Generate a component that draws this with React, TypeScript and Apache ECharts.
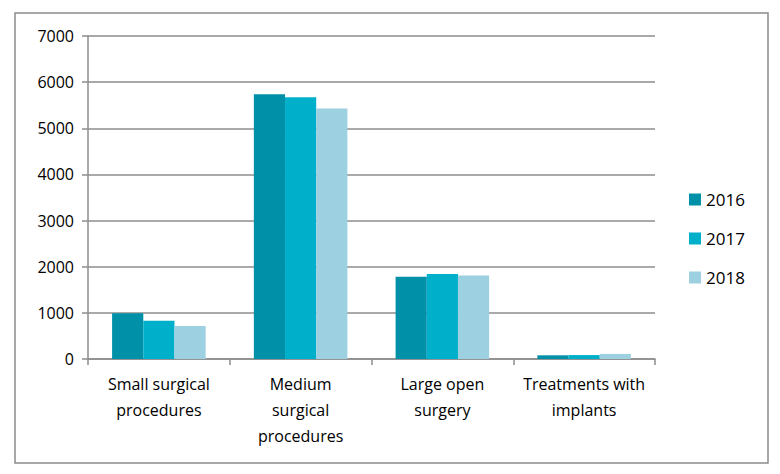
import React, { useEffect, useRef } from "react";
import * as echarts from "echarts";

const categories = [
  "Small surgical\nprocedures",
  "Medium\nsurgical\nprocedures",
  "Large open\nsurgery",
  "Treatments with\nimplants",
];
const years = ["2016", "2017", "2018"];
const values2016 = [990, 5740, 1780, 80];
const values2017 = [830, 5670, 1840, 85];
const values2018 = [715, 5430, 1810, 110];
const colors = ["#0090A8", "#00AFCA", "#9DD0E0"];

export default function App() {
  const ref = useRef<HTMLDivElement>(null);
  useEffect(() => {
    if (!ref.current) return;
    const chart = echarts.init(ref.current, undefined, { renderer: "svg" });
    const font = "'Open Sans', 'Noto Sans', sans-serif";
    const seriesData = [values2016, values2017, values2018];
    chart.setOption({
      animation: false,
      backgroundColor: "#ffffff",
      textStyle: { fontFamily: font },
      graphic: [
        {
          type: "rect",
          shape: { x: 15, y: 13, width: 753, height: 450 },
          style: { fill: "none", stroke: "#8c8c8c", lineWidth: 1.5 },
          z: -1,
        },
      ],
      legend: {
        orient: "vertical",
        left: 684,
        top: 186,
        itemWidth: 12,
        itemHeight: 12,
        itemGap: 22,
        icon: "rect",
        data: years,
        textStyle: { fontSize: 17, color: "#000", fontFamily: font },
      },
      grid: { left: 88, right: 125, top: 36, bottom: 115 },
      xAxis: {
        type: "category",
        data: categories,
        axisLine: { lineStyle: { color: "#8c8c8c", width: 1.5 } },
        axisTick: { show: true, length: 6, lineStyle: { color: "#8c8c8c", width: 1.5 } },
        axisLabel: {
          color: "#000",
          fontSize: 16,
          lineHeight: 26,
          margin: 12,
          interval: 0,
          fontFamily: font,
        },
      },
      yAxis: {
        type: "value",
        min: 0,
        max: 7000,
        interval: 1000,
        axisLine: { show: true, lineStyle: { color: "#8c8c8c", width: 1.5 } },
        axisTick: { show: true, length: 6, lineStyle: { color: "#8c8c8c", width: 1.5 } },
        splitLine: { lineStyle: { color: "#8c8c8c", width: 1.5 } },
        axisLabel: {
          color: "#000",
          fontSize: 16,
          margin: 14,
          fontFamily: font,
          formatter: (v: number) => String(v),
        },
      },
      series: years.map((y, i) => ({
        name: y,
        type: "bar",
        data: seriesData[i],
        itemStyle: { color: colors[i] },
        barGap: "0%",
        barCategoryGap: "34%",
      })),
    });
    return () => chart.dispose();
  }, []);
  return (
    <div
      ref={ref}
      style={{ position: "fixed", left: 0, top: 0, width: 780, height: 474 }}
    />
  );
}
